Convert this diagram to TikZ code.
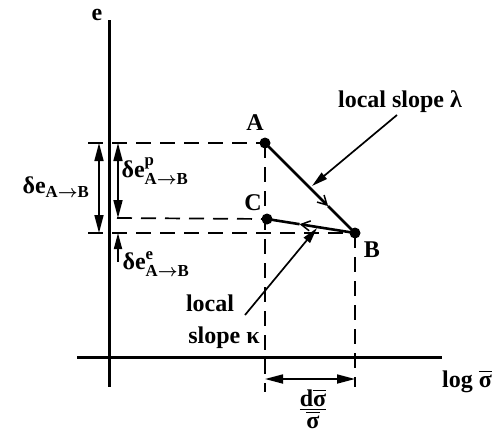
\documentclass[tikz,border=0pt]{standalone}
\usepackage{amsmath}
\usepackage{fontspec}
\setmainfont{Liberation Serif}
\usetikzlibrary{arrows.meta,positioning}
\tikzset{
  curve-axis/.style={line width=3pt},
  curve-guide/.style={dash pattern=on 15pt off 9pt, line width=1.7pt},
  curve-path/.style={line width=2.6pt},
  curve-point/.style={circle, fill=black, inner sep=0pt, minimum size=11pt},
  curve-dim/.style={line width=1.7pt, {Triangle[length=18pt,width=9pt]}-{Triangle[length=18pt,width=9pt]}},
  curve-pointer/.style={line width=1.7pt, -{Triangle[length=16pt,width=8pt]}},
  curve-barb/.style={line width=2.6pt, -{Straight Barb[length=9pt,width=10pt,line width=1.5pt]}},
  curve-label/.style={font=\fontsize{24}{27}\selectfont\bfseries, inner sep=0pt}
}
\newcommand{\dAB}{\text{A}\boldsymbol{\rightarrow}\text{B}}

\begin{document}
\begin{tikzpicture}[x=1pt, y=-1pt]
  \useasboundingbox (0,0) rectangle (501,437);
  % axes
  \coordinate (e-top) at (109,20);
  \coordinate (e-bot) at (109,387);
  \coordinate (s-left) at (77,357);
  \coordinate (s-right) at (442,357);
  \draw[curve-axis] (e-top) -- (e-bot);
  \draw[curve-axis] (s-left) -- (s-right);
  \node[curve-label] (e-lab) at (97,15) {e};
  \node[curve-label] (s-lab) at (467,381) {log $\overline{\text{σ}}$};
  % states
  \node[curve-point] (A) at (265,143) {};
  \node[curve-point] (C) at (267,219) {};
  \node[curve-point] (B) at (355,233) {};
  \node[curve-label] (A-lab) at (255,123) {A};
  \node[curve-label] (C-lab) at (253,203) {C};
  \node[curve-label] (B-lab) at (372,250) {B};
  \path (A.center) -- coordinate[pos=0.7] (ab-mid) (B.center);
  \path (B.center) -- coordinate[pos=0.63] (bc-mid) (C.center);
  \draw[curve-barb] (A.center) -- (ab-mid);
  \draw[curve-path] (ab-mid) -- (B.center);
  \draw[curve-barb] (B.center) -- (bc-mid);
  \draw[curve-path] (bc-mid) -- (C.center);
  % guide lines
  \coordinate (g-A) at (88,143);
  \coordinate (g-C) at (117,218);
  \coordinate (g-B) at (88,233);
  \coordinate (x-A) at (265,392);
  \coordinate (x-B) at (355,387);
  \draw[curve-guide] (g-A) -- (A.center);
  \draw[curve-guide] (g-C) -- (C.center);
  \draw[curve-guide] (g-B) -- (B.center);
  \draw[curve-guide] (A.center) -- (x-A);
  \draw[curve-guide] (B.center) -- (x-B);
  % strain increments
  \coordinate (dt) at (99,143);
  \coordinate (db) at (99,233);
  \coordinate (pt) at (118,143);
  \coordinate (pb) at (118,218);
  \coordinate (et) at (118,233);
  \coordinate (eb) at (118,262);
  \draw[curve-dim] (dt) -- (db);
  \draw[curve-dim] (pt) -- (pb);
  \draw[curve-pointer] (eb) -- (et);
  \node[curve-label] (d-lab) at (56,187) {$\text{δe}_{\dAB}$};
  \node[curve-label] (p-lab) at (155,171) {$\text{δe}^{\text{p}}_{\dAB}$};
  \node[curve-label] (el-lab) at (156,264) {$\text{δe}^{\text{e}}_{\dAB}$};
  % slopes
  \node[curve-label] (lam-lab) at (400,102) {local slope λ};
  \node[curve-label] (kap-lab) at (210,303) {local};
  \node[curve-label] (kap-lab2) at (224,338) {slope κ};
  \coordinate (lam-tail) at (397,115);
  \coordinate (lam-tip) at (312,186);
  \coordinate (kap-tail) at (245,315);
  \coordinate (kap-tip) at (317,228);
  \draw[curve-pointer] (lam-tail) -- (lam-tip);
  \draw[curve-pointer] (kap-tail) -- (kap-tip);
  % stress increment
  \coordinate (sl) at (265,379);
  \coordinate (sr) at (355,379);
  \draw[curve-dim] (sl) -- (sr);
  \node[curve-label] (ds-lab) at (313,409) {$\frac{\textstyle\text{d}\overline{\text{σ}}}{\textstyle\overline{\text{σ}}}$};
\end{tikzpicture}
\end{document}
